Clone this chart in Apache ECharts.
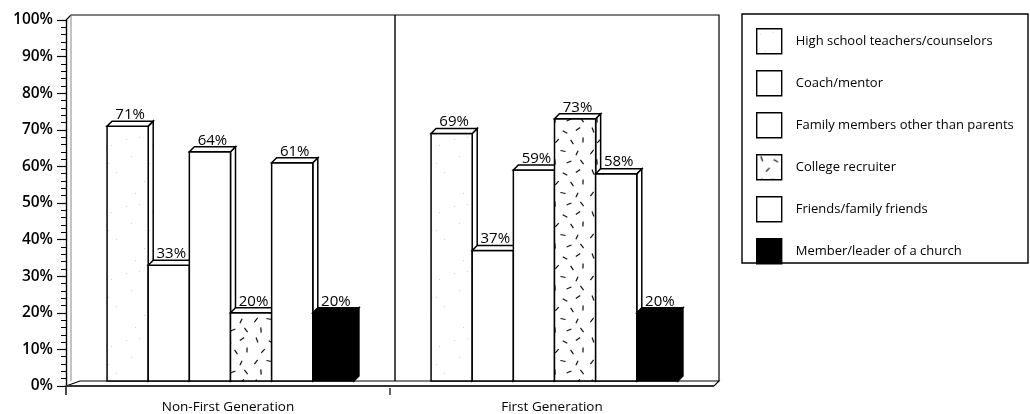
<!DOCTYPE html>
<html>
<head>
<meta charset="utf-8">
<script src="https://cdn.jsdelivr.net/npm/echarts@6/dist/echarts.min.js"></script>
<style>
  html, body { margin: 0; padding: 0; background: #fff; }
  #chart { width: 1030px; height: 414px; }
</style>
</head>
<body>
<div id="chart"></div>
<script>
// Source groups and the share of students citing each one
const categories = ['Non-First Generation', 'First Generation'];
const seriesNames = [
  'High school teachers/counselors',
  'Coach/mentor',
  'Family members other than parents',
  'College recruiter',
  'Friends/family friends',
  'Member/leader of a church'
];
const highSchool = [71, 69];
const coach = [33, 37];
const family = [64, 59];
const recruiter = [20, 73];
const friends = [61, 58];
const church = [20, 20];
const yMin = 0, yMax = 100, yStep = 10;

const FONT = '"Open Sans", Lato, sans-serif';
const GRID = { left: 66, right: 316, top: 20, bottom: 28 };
const DEPTH = 5;

// faint speckle fill
function speckle() {
  const c = document.createElement('canvas');
  c.width = 41; c.height = 67;
  const g = c.getContext('2d');
  g.fillStyle = '#fff'; g.fillRect(0, 0, 41, 67);
  g.fillStyle = '#d2d2d2';
  [[3,5],[29,11],[8,22],[34,38],[21,47],[12,59],[26,29],[16,3]]
    .forEach(([x, y]) => g.fillRect(x, y, 1, 1));
  return c;
}
// scattered short dashes
function dashes() {
  const c = document.createElement('canvas');
  c.width = 42; c.height = 42;
  const g = c.getContext('2d');
  g.fillStyle = '#fff'; g.fillRect(0, 0, 42, 42);
  g.strokeStyle = '#111'; g.lineWidth = 1.2; g.lineCap = 'butt';
  const marks = [
    [5, 4, 1.2], [19, 6, 0.5], [32, 3, -0.6], [11, 15, 2.3], [26, 16, 1.0],
    [37, 14, 1.6], [4, 26, -0.9], [17, 25, 0.2], [31, 27, 2.0], [9, 36, 1.5],
    [23, 36, -0.4], [36, 36, 0.9]
  ];
  marks.forEach(([x, y, a]) => {
    const dx = Math.cos(a) * 2.6, dy = Math.sin(a) * 2.6;
    g.beginPath(); g.moveTo(x - dx, y - dy); g.lineTo(x + dx, y + dy); g.stroke();
  });
  return c;
}

const fills = [
  { image: speckle(), repeat: 'repeat' },
  '#fff',
  '#fff',
  { image: dashes(), repeat: 'repeat' },
  '#fff',
  '#000'
];
const seriesValues = [highSchool, coach, family, recruiter, friends, church];

function boxSeries(name, values, idx) {
  return {
    type: 'custom',
    name: name,
    data: values.map((v, i) => [i, v]),
    encode: { x: 0, y: 1 },
    renderItem: function (params, api) {
      const c = api.value(0), v = api.value(1);
      const top = api.coord([c, v]);
      const base = api.coord([c, 0]);
      const band = api.size([1, 0])[0];
      const p = band * 0.127;
      const d = DEPTH;
      const x0 = top[0] - 3 * p + d / 2 + idx * p;
      const x1 = x0 + p;
      const yT = top[1];
      const yB = base[1] - 5;
      const fill = fills[idx];
      const edge = { stroke: '#000', lineWidth: 1.5 };
      return {
        type: 'group',
        children: [
          { type: 'polygon', shape: { points: [[x1, yT], [x1 + d, yT - d], [x1 + d, yB - d], [x1, yB]] },
            style: Object.assign({ fill: fill }, edge) },
          { type: 'rect', shape: { x: x0, y: yT, width: p, height: yB - yT },
            style: Object.assign({ fill: fill }, edge) },
          { type: 'polygon', shape: { points: [[x0, yT], [x0 + d, yT - d], [x1 + d, yT - d], [x1, yT]] },
            style: Object.assign({ fill: idx === 5 ? '#000' : '#fff' }, edge) },
          { type: 'text', z2: 100,
            style: { x: x0 + (p + d) / 2, y: yT - d + 1, text: v + '%', align: 'center',
                     verticalAlign: 'bottom', font: '15px ' + FONT, fill: '#000' } }
        ]
      };
    }
  };
}

const chart = echarts.init(document.getElementById('chart'), null, { renderer: 'canvas' });

const W = 1030, H = 414;
const xL = GRID.left, xR = W - GRID.right, yT = GRID.top, yB = H - GRID.bottom, D = DEPTH;
const xMid = (xL + xR) / 2;
const thin = { stroke: '#000', lineWidth: 1.2 };

chart.setOption({
  animation: false,
  backgroundColor: '#fff',
  grid: GRID,
  xAxis: {
    type: 'category',
    data: categories,
    axisLine: { show: false },
    axisTick: { show: false },
    axisLabel: { margin: 14, fontSize: 13.5, fontFamily: FONT, color: '#000' },
    splitLine: { show: false }
  },
  yAxis: {
    type: 'value',
    min: yMin, max: yMax, interval: yStep,
    axisLine: { show: true, lineStyle: { color: '#000', width: 1.4 } },
    axisTick: { show: true, length: 9, lineStyle: { color: '#000', width: 1.2 } },
    minorTick: { show: true, splitNumber: 5, length: 5, lineStyle: { color: '#000', width: 1 } },
    axisLabel: { formatter: '{value}%', margin: 13, fontSize: 15.5, fontWeight: 600, fontFamily: FONT, color: '#000' },
    splitLine: { show: false }
  },
  legend: {
    orient: 'vertical',
    left: 756, top: 28,
    padding: 0,
    itemWidth: 25, itemHeight: 25, itemGap: 15.6,
    selectedMode: false,
    textStyle: { fontSize: 13, fontFamily: FONT, color: '#000', padding: [0, 0, 0, 9] },
    data: seriesNames.map((n, i) => ({
      name: n, icon: 'rect',
      itemStyle: { color: fills[i], borderColor: '#000', borderWidth: 1.4 }
    }))
  },
  graphic: [
    // back wall
    { type: 'polyline', z: 0, shape: { points: [[xL, yT], [xL + D, yT - D], [xR + D, yT - D], [xR + D, yB - D]] }, style: thin },
    { type: 'line', z: 0, shape: { x1: xL + D, y1: yT - D, x2: xL + D, y2: yB - D }, style: { stroke: '#888', lineWidth: 1 } },
    { type: 'line', z: 0, shape: { x1: xMid + D, y1: yT - D, x2: xMid + D, y2: yB - D }, style: { stroke: '#000', lineWidth: 1.4 } },
    // floor
    { type: 'polygon', z: 1, shape: { points: [[xL, yB], [xL + 14, yB - D], [xR + D, yB - D], [xR, yB]] },
      style: { fill: '#fff', stroke: '#000', lineWidth: 1.2 } },
    { type: 'line', z: 1, shape: { x1: xL, y1: yB, x2: xR, y2: yB }, style: { stroke: '#333', lineWidth: 2.2 } },
    // axis ticks below the floor
    { type: 'line', z: 3, shape: { x1: xL, y1: yB, x2: xL, y2: yB + 9 }, style: { stroke: '#000', lineWidth: 1.4 } },
    { type: 'line', z: 3, shape: { x1: xMid, y1: yB + 2, x2: xMid, y2: yB + 9 }, style: { stroke: '#000', lineWidth: 1.2 } },
    // legend frame
    { type: 'rect', z: 0, shape: { x: 742, y: 14, width: 286, height: 249 },
      style: { fill: 'none', stroke: '#000', lineWidth: 1.4 } }
  ],
  series: seriesNames.map((n, i) => boxSeries(n, seriesValues[i], i))
});
</script>
</body>
</html>
